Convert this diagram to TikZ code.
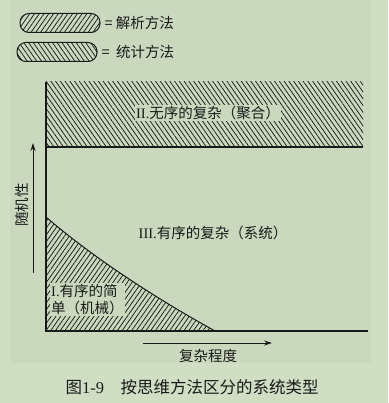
\documentclass[tikz,border=0pt]{standalone}
\usepackage{fontspec}
\setmainfont{Liberation Serif}
\newfontfamily\cjk{Noto Sans CJK SC}
\usetikzlibrary{positioning,patterns.meta,arrows.meta}
\definecolor{pagebg}{RGB}{208,222,196}
\definecolor{panelbg}{RGB}{202,217,190}
\definecolor{ink}{RGB}{25,25,25}
\tikzset{
	hatchA/.style={pattern={Lines[angle=55,distance=3.9pt,line width=0.75pt]},pattern color=ink},
	hatchB/.style={pattern={Lines[angle=-55,distance=3.9pt,line width=0.75pt]},pattern color=ink},
	pill/.style={draw=ink,line width=1pt,minimum width=80,minimum height=19,rounded corners=9pt,inner sep=0},
	axisline/.style={draw=ink,line width=1.2pt},
	dirarrow/.style={->,>={Stealth[width=5pt,length=8pt]},draw=ink,line width=0.8pt},
	lbl/.style={text=ink,font=\fontsize{14.5}{17.5}\selectfont\cjk,inner sep=1pt},
	clearlbl/.style={lbl,fill=panelbg},
	captionlbl/.style={text=ink,font=\fontsize{16.5}{19}\selectfont\cjk}
}
\begin{document}
\begin{tikzpicture}[x=1pt,y=-1pt]
	\useasboundingbox[fill=pagebg] (0,0) rectangle (388,403);
	\fill[panelbg] (10,0) rectangle (371,363);
	
	%%%legend
	\node[pill,hatchA] (p1) at (60,23) {};
	\node[pill,hatchB] (p2) at (57,52) {};
	\node[lbl,right=3pt of p1] (l1) {= 解析方法};
	\node[lbl,right=3pt of p2] (l2) {= \ 统计方法};
	
	%%%regions
	\fill[hatchB] (46,82) rectangle (363,147);
	\fill[hatchA] (46,217) .. controls (90,255) and (150,295) .. (215,331) -- (46,331) -- cycle;
	
	\coordinate (o) at (46,331);
	\coordinate (top) at (46,82);
	\coordinate (xend) at (368,331);
	\coordinate (rtop) at (363,147);
	\coordinate (ltop) at (46,147);
	\coordinate (c0) at (46,217);
	\coordinate (c1) at (215,331);
	
	\draw[axisline] (top) -- (o) -- (xend);
	\draw[axisline] (ltop) -- (rtop);
	\draw[axisline,line width=1pt] (c0) .. controls (90,255) and (150,295) .. (c1);
	
	\node[clearlbl] (sII) at (208,113) {{\rmfamily II.}无序的复杂（聚合）};
	\node[lbl] (sIII) at (213,233) {{\rmfamily III.}有序的复杂（系统）};
	\node[clearlbl,align=left,anchor=north west] (sI) at (50,283) {{\rmfamily I.}有序的简\\单（机械）};
	
	%%%axes
	\coordinate (ya) at (33,273);
	\coordinate (yb) at (33,143);
	\draw[dirarrow] (ya) -- (yb);
	\node[lbl,rotate=90] (ylab) at (22,205) {随机性};
	
	\coordinate (xa) at (143,343);
	\coordinate (xb) at (272,343);
	\draw[dirarrow] (xa) -- (xb);
	\node[lbl] (xlab) at (208,356) {复杂程度};
	
	\node[captionlbl,anchor=west] (cap) at (62,387) {图{\rmfamily 1-9}\quad 按思维方法区分的系统类型};
\end{tikzpicture}
\end{document}
